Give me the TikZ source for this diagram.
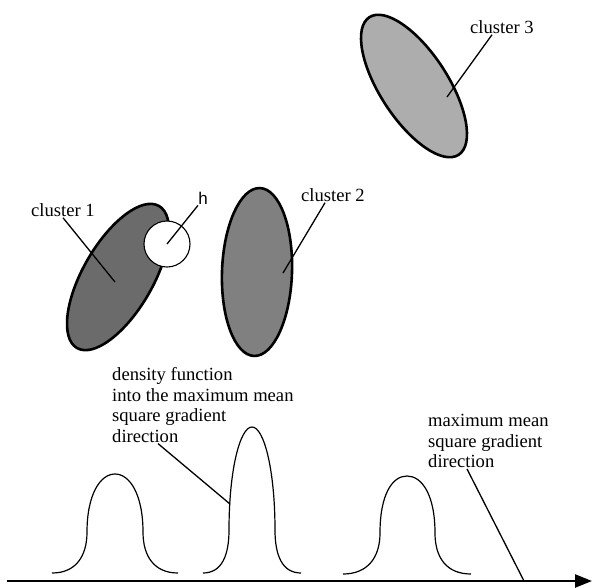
\documentclass[tikz,border=0pt]{standalone}
\usepackage{fontspec}
\setmainfont{Liberation Serif}
\newfontfamily\hfont{Liberation Sans}
\usetikzlibrary{shapes.geometric,arrows.meta}
\begin{document}
\begin{tikzpicture}[x=1pt,y=-1pt,
  cluster/.style={ellipse,draw=black,line width=2.6pt,inner sep=0pt},
  lbl/.style={inner sep=1pt,font=\fontsize{18.6}{20.5}\selectfont,align=left},
  lead/.style={line width=1.3pt},
  bump/.style={line width=1.2pt},
  axis/.style={line width=2.4pt,-{Triangle[length=17pt,width=13pt]}}]
\definecolor{dark}{gray}{0.42}
\definecolor{mid}{gray}{0.50}
\definecolor{light}{gray}{0.68}
\useasboundingbox (0,0) rectangle (592,587);
\node[cluster,fill=light,minimum width=164pt,minimum height=68pt,rotate=-57] (c3) at (414,86) {};
\node[cluster,fill=dark,minimum width=164pt,minimum height=70pt,rotate=60] (c1) at (118,277) {};
\node[cluster,fill=mid,minimum width=70pt,minimum height=168pt,rotate=-2] (c2) at (257,272) {};
\node[circle,draw=black,line width=1.1pt,fill=white,minimum size=46pt,inner sep=0pt] (hball) at (167,244) {};
\coordinate (p1) at (115,282);
\coordinate (p2) at (283,273);
\coordinate (p3) at (447,97);
\node[lbl] (lab1) at (63,210) {cluster 1};
\node[lbl] (lab2) at (333,195) {cluster 2};
\node[lbl] (lab3) at (502,27) {cluster 3};
\node[inner sep=1pt,font=\hfont\fontsize{17}{17}\selectfont] (hlab) at (203,198) {h};
\draw[lead] (lab1.south) -- (p1);
\draw[lead] ([xshift=-8pt]lab2.south) -- (p2);
\draw[lead] ([xshift=-10pt]lab3.south) -- (p3);
\draw[lead] ([xshift=-5pt]hlab.south) -- (hball.center);
\draw[bump] (52,573) .. controls (76,573) and (87,556) .. (87,532) .. controls (87,495) and (100,474) .. (115,474) .. controls (130,474) and (143,495) .. (143,532) .. controls (143,556) and (154,573) .. (178,573);
\draw[bump] (203,573) .. controls (222,573) and (229,555) .. (229,530) .. controls (229,470) and (240,427) .. (252,427) .. controls (264,427) and (275,470) .. (275,530) .. controls (275,555) and (282,573) .. (301,573);
\draw[bump] (343,574) .. controls (368,574) and (380,557) .. (380,533) .. controls (380,495) and (392,476) .. (407,476) .. controls (422,476) and (435,495) .. (435,533) .. controls (435,557) and (446,574) .. (471,574);
\coordinate (ax0) at (7,581);
\coordinate (ax1) at (592,581);
\coordinate (dens) at (230,504);
\coordinate (mgd) at (524,581);
\draw[axis] (ax0) -- (ax1);
\node[lbl,anchor=west] (denslab) at (111,405) {density function\\into the maximum mean\\square gradient\\direction};
\node[lbl,anchor=west] (mgdlab) at (427,441) {maximum mean\\square gradient\\direction};
\draw[lead] ([xshift=47pt]denslab.south west) -- (dens);
\draw[lead] ([xshift=40pt]mgdlab.south west) -- (mgd);
\end{tikzpicture}
\end{document}
